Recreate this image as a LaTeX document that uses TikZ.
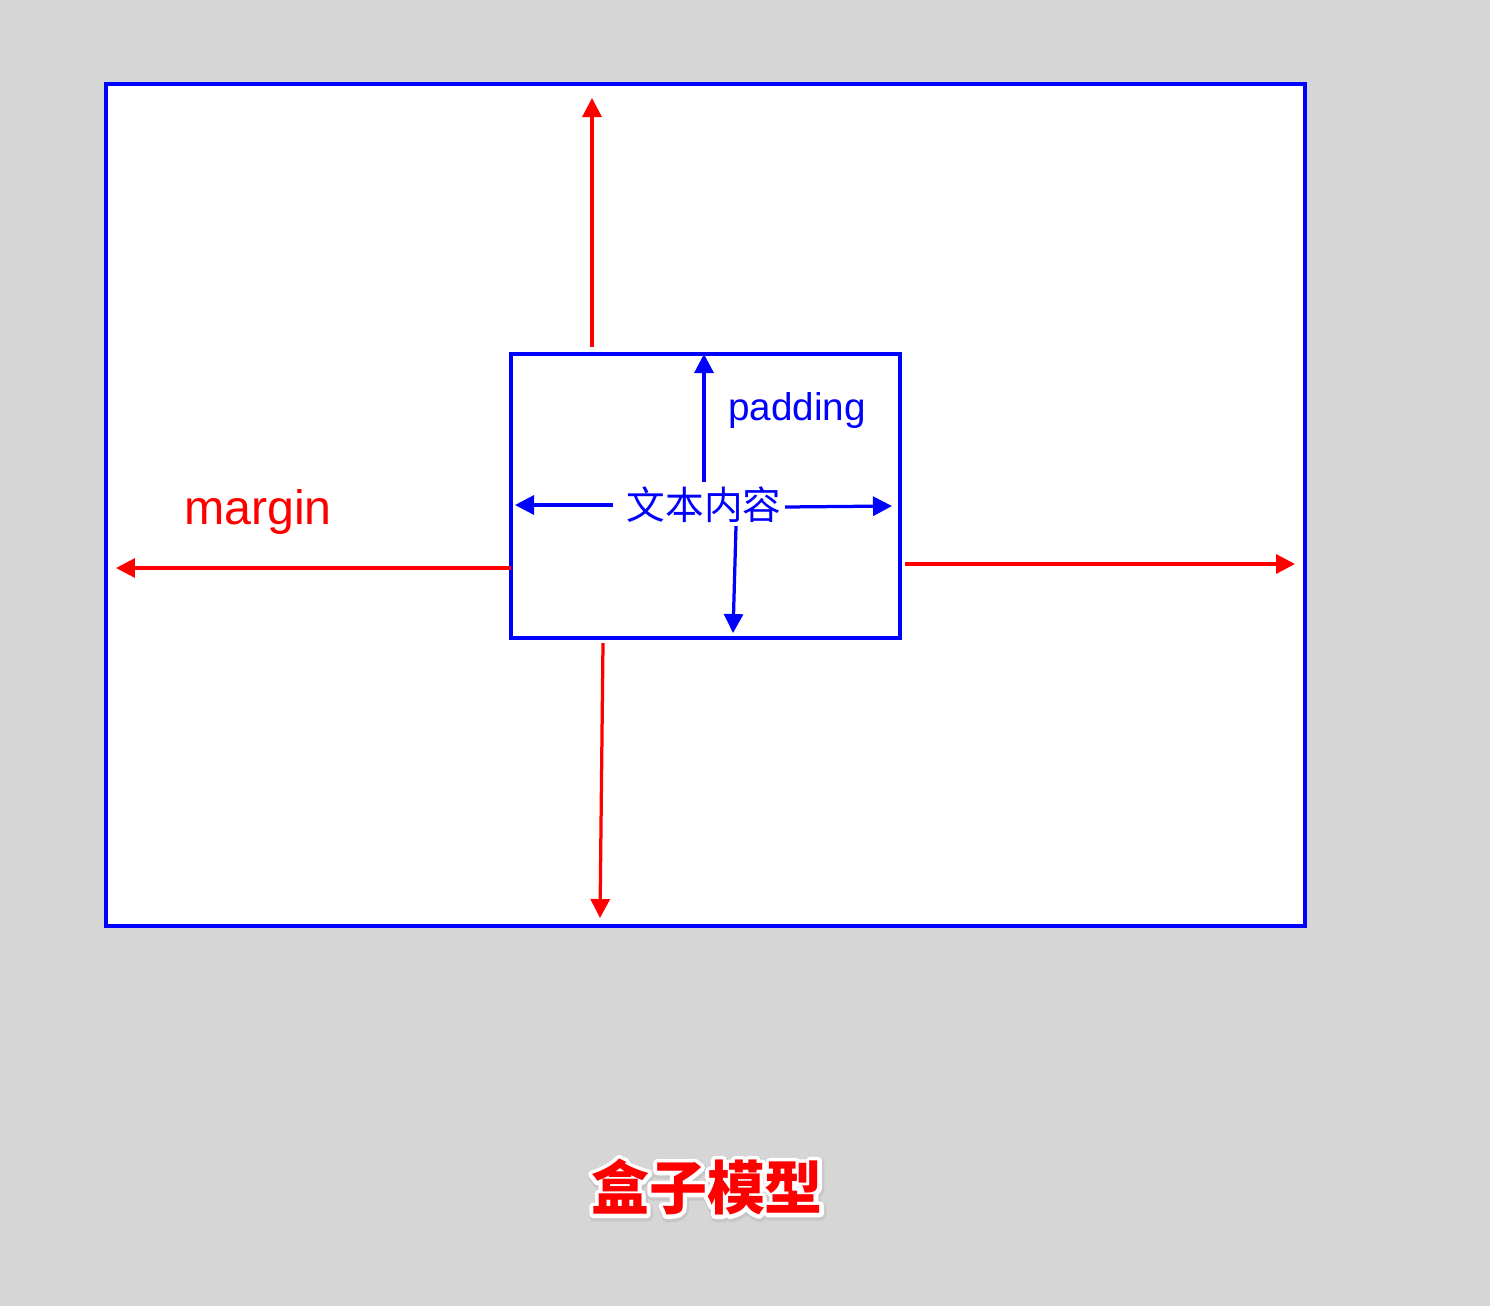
\documentclass[tikz,border=0pt]{standalone}
\usepackage{fontspec}
\setmainfont{Liberation Sans}
\newfontfamily\cjk{Noto Sans CJK SC}
\usetikzlibrary{arrows.meta}
\definecolor{bggray}{HTML}{D6D6D6}
\definecolor{boxblue}{HTML}{0000FF}
\definecolor{marginred}{HTML}{FF0000}
% outlined text: stroke the glyphs with a wide round pen
\newcommand{\outlinetext}[2]{\special{pdf:literal direct 1 j 1 J #1 w 2 Tr}#2\special{pdf:literal direct 0 Tr}}

\begin{document}
\begin{tikzpicture}[
		x=0.02cm, y=-0.02cm,
		box/.style={draw=boxblue, fill=white, line width=0.08cm, inner sep=0pt},
		marrow/.style={-{Triangle[length=0.38cm, width=0.38cm]}, draw=marginred, line width=0.065cm},
		parrow/.style={-{Triangle[length=0.38cm, width=0.38cm]}, draw=boxblue, line width=0.065cm},
		label/.style={inner sep=0pt, font=\fontsize{22pt}{24pt}\selectfont},
		titletext/.style={inner sep=0pt, font=\cjk\bfseries\fontsize{33pt}{35pt}\selectfont}
	]
	
		% Background
		\fill[bggray] (0,0) rectangle (1490,1306);
		\useasboundingbox (0,0) rectangle (1490,1306);
		
		% Nodes
		\node[box, minimum width=23.98cm, minimum height=16.84cm] (marginbox) at (705.5,505) {};
		\node[box, minimum width=7.78cm, minimum height=5.68cm] (paddingbox) at (705.5,496) {};
		\node[label, text=boxblue] (content) at (704,505) {\cjk 文本内容};
		\node[label, text=boxblue] (padding) at (797,410) {padding};
		\node[label, text=marginred, font=\fontsize{27.5pt}{30pt}\selectfont] (margin) at (258,512) {margin};
		
		% Title
		\node[titletext, text=black!22] (titleshadow) at (708,1189) {\outlinetext{6}{盒子模型}};
		\node[titletext, text=white] (titleoutline) at (707,1187) {\outlinetext{4.5}{盒子模型}};
		\node[titletext, text=marginred] (title) at (707,1187) {盒子模型};
		
		% Arrow ends
		\coordinate (mtop0) at (592,347);     \coordinate (mtop) at (592,98);
		\coordinate (mleft0) at (511,568);    \coordinate (mleft) at (116,568);
		\coordinate (mright0) at (905,564);   \coordinate (mright) at (1295,564);
		\coordinate (mbottom0) at (603,643);  \coordinate (mbottom) at (600,918);
		\coordinate (ptop0) at (704,482);     \coordinate (ptop) at (704,354);
		\coordinate (pleft0) at (613,505);    \coordinate (pleft) at (515,505);
		\coordinate (pright0) at (785,507);   \coordinate (pright) at (892,506);
		\coordinate (pbottom0) at (736,526);  \coordinate (pbottom) at (733,633);
		
		% Arrows
		\draw[marrow] (mtop0) -- (mtop);
		\draw[marrow] (mleft0) -- (mleft);
		\draw[marrow] (mright0) -- (mright);
		\draw[marrow] (mbottom0) -- (mbottom);
		\draw[parrow] (ptop0) -- (ptop);
		\draw[parrow] (pleft0) -- (pleft);
		\draw[parrow] (pright0) -- (pright);
		\draw[parrow] (pbottom0) -- (pbottom);
		
	\end{tikzpicture}
\end{document}
